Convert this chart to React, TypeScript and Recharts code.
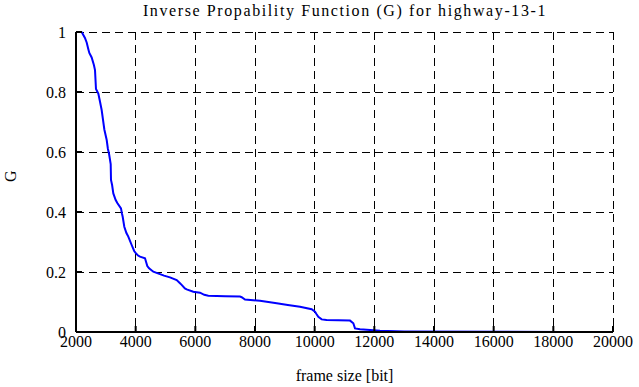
import React from 'react'
import {
    LineChart,
    Line,
    XAxis,
    YAxis,
    CartesianGrid,
} from 'recharts';

const frameSize = [
    2190, 2300, 2358, 2420, 2447, 2525, 2600, 2637, 2670, 2748, 2800, 2860, 2950, 3029, 3070, 3106,
    3163, 3173, 3210, 3251, 3330, 3385, 3508, 3540, 3565, 3619, 3690, 3753, 3866, 3950, 4011, 4080,
    4145, 4313, 4360, 4390, 4450, 4591, 4815, 4950, 5150, 5375, 5460, 5542, 5650, 5710, 5931, 6157,
    6300, 6434, 7000, 7497, 7554, 7665, 8167, 8728, 9100, 9508, 9900, 10010, 10060, 10122, 10235,
    10400, 11185, 11296, 11352, 11520, 12190, 13000, 18330,
];

const gValues = [
    1.0, 0.98, 0.965, 0.94, 0.93, 0.915, 0.89, 0.873, 0.81, 0.795, 0.77, 0.74, 0.675, 0.64, 0.61, 0.595,
    0.56, 0.507, 0.49, 0.462, 0.44, 0.43, 0.412, 0.395, 0.384, 0.351, 0.33, 0.318, 0.29, 0.27, 0.262, 0.255,
    0.251, 0.246, 0.23, 0.22, 0.212, 0.201, 0.193, 0.188, 0.182, 0.173, 0.165, 0.157, 0.145, 0.142, 0.134, 0.131,
    0.124, 0.121, 0.119, 0.118, 0.116, 0.108, 0.104, 0.096, 0.09, 0.084, 0.076, 0.068, 0.06, 0.051, 0.042,
    0.04, 0.038, 0.029, 0.012, 0.009, 0.004, 0.002, 0,
];

const xTicks = [2000, 4000, 6000, 8000, 10000, 12000, 14000, 16000, 18000, 20000];
const yTicks = [0, 0.2, 0.4, 0.6, 0.8, 1];

const font = 'Liberation Serif';

function App() {

    const data = frameSize.map((x, i) => ({ x, g: gValues[i] }));

    const axisStyle = { stroke: '#000', strokeWidth: 2 };
    const tickStyle = { fill: '#000', fontSize: 16, fontFamily: font };

    return (
        <div className="chart" style={{ position: 'absolute', left: 0, top: 0, width: 639, height: 387, background: '#fff', fontFamily: font }}>
            <style>{`
                .chart text { font-family: 'Liberation Serif', serif; }
                .chart .recharts-cartesian-grid line { shape-rendering: crispEdges; }
            `}</style>
            <div style={{ position: 'absolute', top: 0, left: 0, width: 690, textAlign: 'center', fontSize: 16, letterSpacing: 1.6, lineHeight: '22px' }}>
                Inverse Propability Function (G) for highway-13-1
            </div>
            <LineChart
                width={639}
                height={387}
                data={data}
                margin={{ top: 32, right: 26, left: 0, bottom: 0 }}
            >
                <CartesianGrid stroke="#000" strokeDasharray="8 5" strokeWidth={1} />
                <XAxis
                    dataKey="x"
                    type="number"
                    domain={[2000, 20000]}
                    ticks={xTicks}
                    interval={0}
                    height={55}
                    axisLine={axisStyle}
                    tickLine={axisStyle}
                    tickSize={-6}
                    tickMargin={10}
                    tick={tickStyle}
                    label={{ value: 'frame size [bit]', position: 'insideBottom', offset: 6, fill: '#000', fontSize: 16, fontFamily: font }}
                />
                <XAxis
                    xAxisId="top"
                    orientation="top"
                    type="number"
                    domain={[2000, 20000]}
                    allowDataOverflow
                    ticks={xTicks}
                    interval={0}
                    height={0}
                    axisLine={axisStyle}
                    tickLine={axisStyle}
                    tickSize={-6}
                    tick={false}
                />
                <YAxis
                    type="number"
                    domain={[0, 1]}
                    ticks={yTicks}
                    interval={0}
                    width={76}
                    axisLine={axisStyle}
                    tickLine={axisStyle}
                    tickSize={-6}
                    tickMargin={16}
                    tick={tickStyle}
                    label={{ value: 'G', angle: -90, position: 'insideLeft', offset: 10, fill: '#000', fontSize: 16, fontFamily: font }}
                />
                <YAxis
                    yAxisId="right"
                    orientation="right"
                    type="number"
                    domain={[0, 1]}
                    allowDataOverflow
                    ticks={yTicks}
                    interval={0}
                    width={0}
                    axisLine={axisStyle}
                    tickLine={axisStyle}
                    tickSize={-6}
                    tick={false}
                />
                <Line
                    type="linear"
                    dataKey="g"
                    stroke="#0000ff"
                    strokeWidth={2}
                    dot={false}
                    isAnimationActive={false}
                />
            </LineChart>
        </div>
    )
}

export default App
